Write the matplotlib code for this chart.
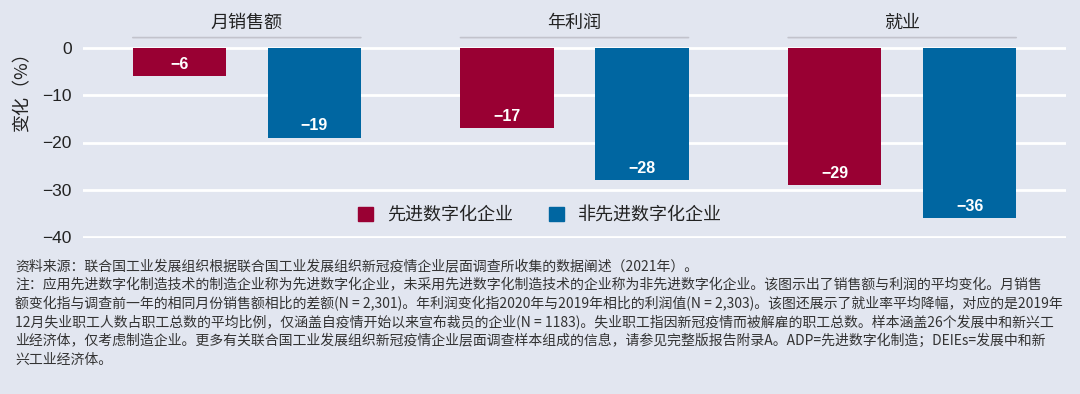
import numpy as np
import matplotlib.pyplot as plt
from matplotlib.patches import Patch

# Daten
gruppen = ['月销售额', '年利润', '就业']
adp = [-6, -17, -29]
nicht_adp = [-19, -28, -36]
serien = ['先进数字化企业', '非先进数字化企业']
yticks = [0, -10, -20, -30, -40]
fussnote = [
    '资料来源：联合国工业发展组织根据联合国工业发展组织新冠疫情企业层面调查所收集的数据阐述（2021年）。',
    '注：应用先进数字化制造技术的制造企业称为先进数字化企业，未采用先进数字化制造技术的企业称为非先进数字化企业。该图示出了销售额与利润的平均变化。月销售',
    '额变化指与调查前一年的相同月份销售额相比的差额(N = 2,301)。年利润变化指2020年与2019年相比的利润值(N = 2,303)。该图还展示了就业率平均降幅，对应的是2019年',
    '12月失业职工人数占职工总数的平均比例，仅涵盖自疫情开始以来宣布裁员的企业(N = 1183)。失业职工指因新冠疫情而被解雇的职工总数。样本涵盖26个发展中和新兴工',
    '业经济体，仅考虑制造企业。更多有关联合国工业发展组织新冠疫情企业层面调查样本组成的信息，请参见完整版报告附录A。ADP=先进数字化制造；DEIEs=发展中和新',
    '兴工业经济体。',
]

bg = '#E2E6F0'
rot, blau = '#990033', '#0066A1'
cjk = ['Noto Sans CJK SC', 'DejaVu Sans']
schmal = ['Liberation Sans Narrow', 'Liberation Sans', 'Noto Sans CJK SC']
plt.rcParams['font.family'] = cjk

W, H = 1080, 394
fig = plt.figure(figsize=(W / 100, H / 100), dpi=100, facecolor=bg)
ax = fig.add_axes([83 / W, 1 - 238.4 / H, 983 / W, 191.8 / H], facecolor=bg)

x = np.arange(len(gruppen))
b, d = 0.284, 0.206
b1 = ax.bar(x - d, adp, b, color=rot, zorder=3)
b2 = ax.bar(x + d, nicht_adp, b, color=blau, zorder=3)

for bars, werte in [(b1, adp), (b2, nicht_adp)]:
    for r, v in zip(bars, werte):
        ax.annotate(str(v).replace('-', '\u2212'), (r.get_x() + r.get_width() / 2, v),
                    xytext=(0, 12), textcoords='offset pixels', ha='center', va='center',
                    color='white', fontsize=11.5, fontweight='bold', family=schmal, zorder=4)

ax.set_xlim(-0.5, 2.5)
ax.set_ylim(-40.3, 0.3)
ax.set_yticks(yticks)
ax.set_yticklabels([str(t).replace('-', '\u2212') for t in yticks], family=schmal,
                   fontsize=12.5, color='#222222')
ax.set_xticks([])
ax.tick_params(axis='y', length=0, pad=8)
ax.grid(axis='y', color='white', lw=2, zorder=0)
for s in ax.spines.values():
    s.set_visible(False)

# Gruppenkoepfe
for i, g in enumerate(gruppen):
    ax.annotate('', xy=(i - d - b / 2, 1 + 9 / 191.8), xytext=(i + d + b / 2, 1 + 9 / 191.8),
                xycoords=('data', 'axes fraction'), textcoords=('data', 'axes fraction'),
                arrowprops=dict(arrowstyle='-', color='#C2C3CC', lw=1.2, shrinkA=0, shrinkB=0),
                annotation_clip=False)
    ax.text(i, 1 + 24 / 191.8, g, transform=ax.get_xaxis_transform(), ha='center',
            va='center', fontsize=13, color='#222222')

fig.text(22 / W, 1 - 88 / H, '变化（%）', rotation=90, ha='center', va='center',
         fontsize=13, color='#222222')

handles = [Patch(color=rot), Patch(color=blau)]
fig.legend(handles, serien, loc='center', bbox_to_anchor=(540 / W, 1 - 215 / H), ncol=2,
           frameon=False, fontsize=13, handlelength=0.8, handleheight=0.8,
           columnspacing=2.0, handletextpad=0.8, labelcolor='#222222')

for k, zeile in enumerate(fussnote):
    fig.text(15 / W, 1 - (266 + k * 18.8) / H, zeile, ha='left', va='center',
             fontsize=10, color='#333333')

fig.savefig('out.png', dpi=100, facecolor=bg)
